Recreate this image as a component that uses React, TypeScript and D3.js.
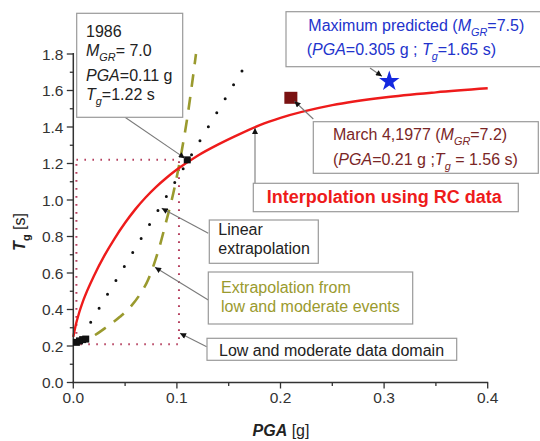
import React from 'react';
import * as d3 from 'd3';

// Axis ticks
const PGA_MAJOR = [0, 0.1, 0.2, 0.3, 0.4];
const PGA_MINOR = [0.05, 0.15, 0.25, 0.35];
const TG_MAJOR = [0, 0.2, 0.4, 0.6, 0.8, 1.0, 1.2, 1.4, 1.6, 1.8];
const TG_MINOR = [0.1, 0.3, 0.5, 0.7, 0.9, 1.1, 1.3, 1.5, 1.7];

// Interpolation using RC data (red curve)
const interpPGA = [0, 0.0025, 0.005, 0.01, 0.02, 0.03, 0.04, 0.05, 0.06, 0.07, 0.08, 0.09, 0.1, 0.12, 0.14, 0.16, 0.18, 0.2, 0.25, 0.3, 0.35, 0.4];
const interpTg = [0.25, 0.318, 0.37, 0.455, 0.585, 0.695, 0.79, 0.875, 0.95, 1.015, 1.072, 1.122, 1.167, 1.243, 1.305, 1.36, 1.41, 1.45, 1.52, 1.562, 1.59, 1.612];

// Extrapolation from low and moderate events (olive dashed curve)
const extrapPGA = [0.021, 0.03, 0.045, 0.056, 0.064, 0.072, 0.078, 0.084, 0.09, 0.095, 0.1, 0.105, 0.11, 0.114, 0.1184];
const extrapTg = [0.26, 0.295, 0.36, 0.42, 0.48, 0.56, 0.65, 0.76, 0.89, 1.0, 1.13, 1.28, 1.45, 1.61, 1.8];

// Linear extrapolation (black dotted line)
const linearPGA = [0.0168, 0.1705];
const linearTg = [0.33, 1.78];

// Low and moderate data domain (dotted rectangle)
const domainPGA = [0.003, 0.102];
const domainTg = [0.21, 1.22];

// Low and moderate events
const eventsPGA = [0.003, 0.006, 0.009, 0.012];
const eventsTg = [0.22, 0.228, 0.235, 0.238];

// Notable events
const event1986 = [0.11, 1.22];
const event1977 = [0.21, 1.56];
const eventMax = [0.305, 1.65];

const FONT = 'Liberation Sans, Arial, Helvetica, sans-serif';

const x = d3.scaleLinear().domain([0, 0.4]).range([73.3, 487.7]);
const y = d3.scaleLinear().domain([0, 1.8]).range([382.5, 54]);

type Part = { t: string; i?: boolean; b?: boolean; sub?: boolean };

function Rich({ parts, px, py, fill, size = 16, anchor = 'start', weight, transform }: {
  parts: Part[]; px: number; py: number; fill: string; size?: number; anchor?: string; weight?: string; transform?: string;
}) {
  let cur = 0;
  return (
    <text x={px} y={py} fill={fill} fontSize={size} fontFamily={FONT} textAnchor={anchor as any} fontWeight={weight} transform={transform}>
      {parts.map((p, k) => {
        const target = p.sub ? size * 0.3 : 0;
        const dy = target - cur;
        cur = target;
        return (
          <tspan key={k} dy={dy} fontStyle={p.i ? 'italic' : undefined} fontWeight={p.b ? 'bold' : undefined} fontSize={p.sub ? size * 0.68 : undefined}>
            {p.t}
          </tspan>
        );
      })}
    </text>
  );
}

function Box({ bx, by, bw, bh }: { bx: number; by: number; bw: number; bh: number }) {
  return <rect x={bx} y={by} width={bw} height={bh} fill="#fff" stroke="#9a9a9a" strokeWidth={1.2} />;
}

function Leader({ x1, y1, x2, y2 }: { x1: number; y1: number; x2: number; y2: number }) {
  return <line x1={x1} y1={y1} x2={x2} y2={y2} stroke="#7a7a7a" strokeWidth={1.1} markerEnd="url(#arrowHead)" />;
}

export default function App() {
  const line = d3.line<number>().curve(d3.curveMonotoneX);
  const interpPath = line(interpPGA.map((p, k) => [x(p), y(interpTg[k])]) as any) as string;
  const extrapPath = line(extrapPGA.map((p, k) => [x(p), y(extrapTg[k])]) as any) as string;
  const linearPath = d3.line()(linearPGA.map((p, k) => [x(p), y(linearTg[k])]) as any) as string;

  const axisColor = '#333';
  const blue = '#2233cc';
  const maroon = '#7a2626';
  const olive = '#9a9a2e';
  const red = '#ee1b1b';

  const star = d3.symbol().type(d3.symbolStar).size(130)() as string;

  // leader end points, stopping short of the markers
  const toward = (x1: number, y1: number, x2: number, y2: number, gap: number) => {
    const dx = x2 - x1, dy = y2 - y1;
    const len = Math.hypot(dx, dy);
    return [x2 - (dx / len) * gap, y2 - (dy / len) * gap];
  };
  const m86 = [x(event1986[0]), y(event1986[1])];
  const m77 = [x(event1977[0]), y(event1977[1])];
  const mMax = [x(eventMax[0]), y(eventMax[1])];
  const l86 = toward(125, 117.3, m86[0], m86[1], 3);
  const l77 = toward(313.3, 119, m77[0], m77[1], 5);
  const lMax = toward(370, 68, mMax[0], mMax[1], 9);

  return (
    <svg width={540} height={441} style={{ position: 'absolute', left: 0, top: 0, background: '#fff' }}>
      <defs>
        <marker id="arrowHead" viewBox="0 0 10 10" refX={10} refY={5} markerWidth={7} markerHeight={6} markerUnits="userSpaceOnUse" orient="auto">
          <path d="M0,0L10,5L0,10z" fill="#111" />
        </marker>
      </defs>

      {/* data domain rectangle */}
      <rect x={x(domainPGA[0])} y={y(domainTg[1])} width={x(domainPGA[1]) - x(domainPGA[0])} height={y(domainTg[0]) - y(domainTg[1])}
        fill="none" stroke="#b5405f" strokeWidth={2} strokeDasharray="1.6 6.4" />

      {/* curves */}
      <path d={extrapPath} fill="none" stroke={olive} strokeWidth={2.6} strokeDasharray="13 10" />
      <path d={linearPath} fill="none" stroke="#111" strokeWidth={3} strokeDasharray="0 16.3" strokeLinecap="round" />
      <path d={interpPath} fill="none" stroke={red} strokeWidth={2.4} />

      {/* axes */}
      <line x1={x(0)} x2={x(0)} y1={y(0) + 0.5} y2={y(1.8) - 1} stroke={axisColor} strokeWidth={1.5} />
      <line x1={x(0) - 1} x2={x(0.4) + 0.5} y1={y(0)} y2={y(0)} stroke={axisColor} strokeWidth={1.5} />
      {TG_MAJOR.map((t) => (
        <g key={'ym' + t}>
          <line x1={x(0) - 6.5} x2={x(0)} y1={y(t)} y2={y(t)} stroke={axisColor} strokeWidth={1.3} />
          <text x={63.5} y={y(t)} dy="0.36em" textAnchor="end" fontSize={15.5} fontFamily={FONT} fill="#333">{t.toFixed(1)}</text>
        </g>
      ))}
      {TG_MINOR.map((t) => (
        <line key={'yn' + t} x1={x(0) - 3.5} x2={x(0)} y1={y(t)} y2={y(t)} stroke={axisColor} strokeWidth={1.3} />
      ))}
      {PGA_MAJOR.map((p) => (
        <g key={'xm' + p}>
          <line x1={x(p)} x2={x(p)} y1={y(0)} y2={y(0) + 6} stroke={axisColor} strokeWidth={1.3} />
          <text x={x(p)} y={403} textAnchor="middle" fontSize={15.5} fontFamily={FONT} fill="#333">{p.toFixed(1)}</text>
        </g>
      ))}
      {PGA_MINOR.map((p) => (
        <line key={'xn' + p} x1={x(p)} x2={x(p)} y1={y(0)} y2={y(0) + 3.5} stroke={axisColor} strokeWidth={1.3} />
      ))}

      <Rich px={281} py={436} fill="#222" size={16} anchor="middle" parts={[{ t: 'PGA', i: true, b: true }, { t: ' [g]' }]} />
      <Rich px={0} py={0} transform="translate(25,232) rotate(-90)" fill="#222" size={16} anchor="middle"
        parts={[{ t: 'T', i: true, b: true }, { t: 'g', sub: true, b: true }, { t: ' [s]' }]} />

      {/* events */}
      {eventsPGA.map((p, k) => (
        <rect key={'ev' + k} x={x(p) - 3.5} y={y(eventsTg[k]) - 3.5} width={7} height={7} fill="#111" />
      ))}
      <rect x={m86[0] - 3.5} y={m86[1] - 3.5} width={7} height={7} fill="#111" />
      <rect x={m77[0] - 6.5} y={m77[1] - 6} width={13} height={12} fill="#7a1212" />
      <path d={star} transform={`translate(${mMax[0]},${mMax[1]})`} fill="#1428e0" />

      {/* annotations */}
      <Leader x1={125} y1={117.3} x2={l86[0]} y2={l86[1]} />
      <Box bx={76.7} by={13.3} bw={106} bh={104} />
      <Rich px={86} py={36.7} fill="#222" parts={[{ t: '1986' }]} />
      <Rich px={86} py={56} fill="#222" parts={[{ t: 'M', i: true }, { t: 'GR', i: true, sub: true }, { t: '= 7.0' }]} />
      <Rich px={86} py={81} fill="#222" parts={[{ t: 'PGA', i: true }, { t: '=0.11 g' }]} />
      <Rich px={86} py={100} fill="#222" parts={[{ t: 'T', i: true }, { t: 'g', i: true, sub: true }, { t: '=1.22 s' }]} />

      <Leader x1={370} y1={68} x2={lMax[0]} y2={lMax[1]} />
      <Box bx={286} by={11.7} bw={256} bh={55} />
      <Rich px={308.3} py={30.7} fill={blue} parts={[{ t: 'Maximum predicted (' }, { t: 'M', i: true }, { t: 'GR', i: true, sub: true }, { t: '=7.5)' }]} />
      <Rich px={306.7} py={55} fill={blue} parts={[{ t: '(' }, { t: 'PGA', i: true }, { t: '=0.305 g ; ' }, { t: 'T', i: true }, { t: 'g', i: true, sub: true }, { t: '=1.65 s)' }]} />

      <Leader x1={313.3} y1={119} x2={l77[0]} y2={l77[1]} />
      <Box bx={313.3} by={121.7} bw={225} bh={51.6} />
      <Rich px={333} py={140} fill={maroon} parts={[{ t: 'March 4,1977 (' }, { t: 'M', i: true }, { t: 'GR', i: true, sub: true }, { t: '=7.2)' }]} />
      <Rich px={333} py={165} fill={maroon} parts={[{ t: '(' }, { t: 'PGA', i: true }, { t: '=0.21 g ;' }, { t: 'T', i: true }, { t: 'g', i: true, sub: true }, { t: ' = 1.56 s)' }]} />

      <Leader x1={255} y1={183.3} x2={255} y2={128} />
      <Box bx={253.3} by={183.3} bw={265} bh={28.4} />
      <Rich px={266.7} py={203.3} fill={red} size={18} weight="bold" parts={[{ t: 'Interpolation using RC data' }]} />

      <Leader x1={208.3} y1={233.3} x2={161.7} y2={208.3} />
      <Box bx={209.3} by={220} bw={109} bh={43.3} />
      <Rich px={218.3} py={234.5} fill="#222" parts={[{ t: 'Linear' }]} />
      <Rich px={218.3} py={254} fill="#222" parts={[{ t: 'extrapolation' }]} />

      <Leader x1={208.3} y1={300} x2={155} y2={267.3} />
      <Box bx={208.3} by={272} bw={204.4} bh={52} />
      <Rich px={221} py={293.3} fill={olive} parts={[{ t: 'Extrapolation from' }]} />
      <Rich px={221} py={312} fill={olive} parts={[{ t: 'low and moderate events' }]} />

      <Leader x1={206.7} y1={346.7} x2={180} y2={333.3} />
      <Box bx={207} by={338.3} bw={249.7} bh={22} />
      <Rich px={219} py={355.5} fill="#222" parts={[{ t: 'Low and moderate data domain' }]} />
    </svg>
  );
}
